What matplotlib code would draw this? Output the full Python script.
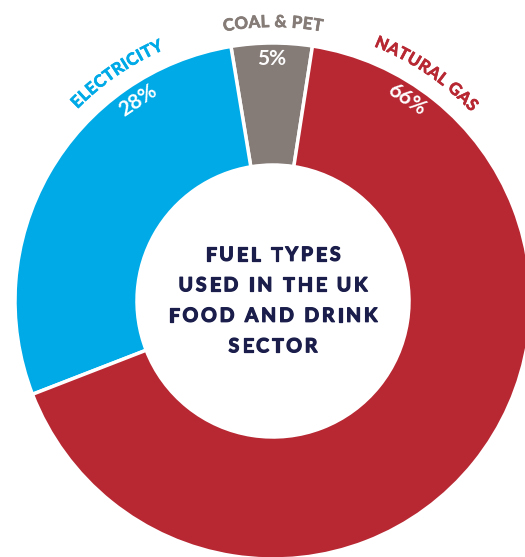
import numpy as np
import matplotlib
matplotlib.use("Agg")
import matplotlib.pyplot as plt
import matplotlib.patheffects as pe
from matplotlib.font_manager import FontProperties

categories = ["COAL & PET", "ELECTRICITY", "NATURAL GAS"]
shares = [5, 28, 66]
share_labels = ["5%", "28%", "66%"]
colors = ["#857B77", "#00AAE7", "#B72833"]
label_colors = ["#857B77", "#00AAE7", "#B72833"]
title_lines = ["FUEL TYPES", "USED IN THE UK", "FOOD AND DRINK", "SECTOR"]

W, H = 525, 557
fig = plt.figure(figsize=(W / 100, H / 100), dpi=100)
ax = fig.add_axes([0, 0, 1, 1])

cx, cy = 273, H - 301
R, ring = 258, 122
wedges, _ = ax.pie(shares, colors=colors, startangle=81.2, counterclock=True,
                   center=(cx, cy), radius=R, frame=True,
                   wedgeprops=dict(width=ring, edgecolor="white", linewidth=2.5))
ax.set_xlim(0, W)
ax.set_ylim(0, H)
ax.set_aspect("equal")
ax.axis("off")

renderer = fig.canvas.get_renderer()
fp_cat = FontProperties(family="Lato", weight="bold", size=12)
fp_pct = FontProperties(family="Lato", weight="bold", size=15)
fp_title = FontProperties(family="Lato", weight="bold", size=14)
title_color = "#1B1E4B"


def text_width(s, fp):
    if not s:
        return 0.0
    w, _, _ = renderer.get_text_width_height_descent(s, fp, ismath=False)
    return w


def char_offsets(s, fp, tracking):
    widths = [text_width(s[:i], fp) + tracking * i for i in range(len(s) + 1)]
    total = widths[-1] - tracking
    mids = [(widths[i] + widths[i + 1] - tracking) / 2 - total / 2 for i in range(len(s))]
    return mids


def curved_text(s, theta_c, r, fp, color, tracking=0.6):
    # characters run clockwise along an arc centred on theta_c (degrees)
    for ch, off in zip(s, char_offsets(s, fp, tracking)):
        ang = theta_c - np.degrees(off / r)
        x = cx + r * np.cos(np.radians(ang))
        y = cy + r * np.sin(np.radians(ang))
        ax.text(x, y, ch, fontproperties=fp, color=color, rotation=ang - 90,
                rotation_mode="anchor", ha="center", va="center",
                path_effects=[pe.withStroke(linewidth=0.5, foreground=color)])


def spaced_line(s, x0, y0, fp, color, tracking):
    for ch, off in zip(s, char_offsets(s, fp, tracking)):
        ax.text(x0 + off, y0, ch, fontproperties=fp, color=color,
                ha="center", va="center",
                path_effects=[pe.withStroke(linewidth=0.9, foreground=color)])


label_angles = {"COAL & PET": 90.0, "ELECTRICITY": 124.5, "NATURAL GAS": 56.0}
pct_angles = {"COAL & PET": None, "ELECTRICITY": 124.0, "NATURAL GAS": 56.4}
for w, name, pct, lc in zip(wedges, categories, share_labels, label_colors):
    ang = pct_angles[name]
    if ang is None:
        ang = (w.theta1 + w.theta2) / 2
    rp = 242
    ax.text(cx + rp * np.cos(np.radians(ang)), cy + rp * np.sin(np.radians(ang)),
            pct, fontproperties=fp_pct, color="white", rotation=ang - 90,
            rotation_mode="anchor", ha="center", va="center")
    curved_text(name, label_angles[name], 279, fp_cat, lc)

line_gap = 30.5
n = len(title_lines)
for i, line in enumerate(title_lines):
    y = cy + (n - 1) / 2 * line_gap - i * line_gap
    spaced_line(line, cx, y, fp_title, title_color, tracking=2.8)

fig.savefig("out.png", dpi=100)
